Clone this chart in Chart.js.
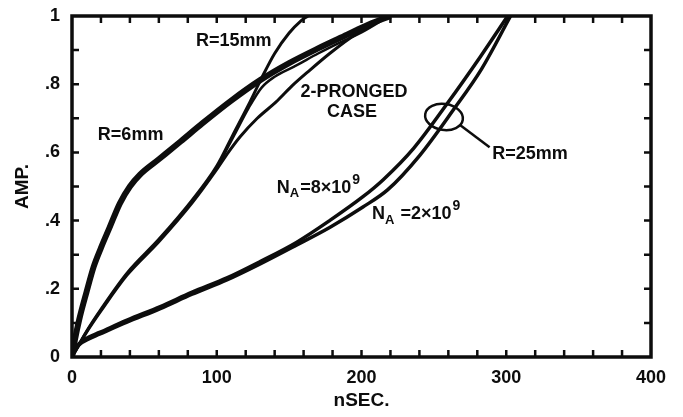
<!DOCTYPE html>
<html>
<head>
<meta charset="utf-8">
<script src="https://cdn.jsdelivr.net/npm/chart.js@4"></script>
<style>
  html, body { margin: 0; padding: 0; background: #fff; }
</style>
</head>
<body>
<canvas id="chart" width="683" height="417"></canvas>
<script>
// --- data ---
const xTickLabels = ['0', '100', '200', '300', '400'];
const yTickLabels = ['0', '.2', '.4', '.6', '.8', '1'];

const r6X = [0, 2, 5, 10, 15, 20, 26, 33, 40, 47, 60, 75, 90, 110, 130, 150, 170, 190, 205, 220];
const r6Y = [0, 0.05, 0.11, 0.19, 0.265, 0.32, 0.38, 0.45, 0.5, 0.535, 0.58, 0.632, 0.685, 0.752, 0.812, 0.862, 0.905, 0.945, 0.975, 1.0];

const r15X = [0, 10, 20, 38, 60, 83, 100, 111, 122, 131, 140, 150, 158, 163];
const r15Y = [0, 0.075, 0.14, 0.246, 0.345, 0.46, 0.56, 0.65, 0.74, 0.818, 0.89, 0.95, 0.985, 1.0];

const prongLowX = [0, 10, 20, 38, 60, 83, 100, 108, 116, 128, 141, 152, 164, 178, 192, 205, 217];
const prongLowY = [0, 0.072, 0.135, 0.24, 0.338, 0.452, 0.55, 0.6, 0.645, 0.7, 0.748, 0.795, 0.84, 0.89, 0.935, 0.97, 1.0];

const prongHighX = [0, 10, 20, 38, 60, 83, 100, 112, 122, 131, 140, 155, 170, 185, 200, 219];
const prongHighY = [0, 0.074, 0.138, 0.243, 0.342, 0.456, 0.555, 0.65, 0.73, 0.79, 0.822, 0.855, 0.89, 0.922, 0.952, 1.0];

const na8X = [0, 2, 5, 12, 19, 38, 61, 83, 107, 130, 155, 178, 201, 215, 236, 259, 282, 301];
const na8Y = [0, 0.02, 0.04, 0.059, 0.072, 0.108, 0.148, 0.19, 0.232, 0.28, 0.336, 0.40, 0.47, 0.52, 0.612, 0.742, 0.88, 1.0];

const na2X = [0, 2, 5, 12, 19, 38, 61, 83, 107, 130, 155, 178, 201, 218, 240, 263, 283, 303];
const na2Y = [0, 0.018, 0.036, 0.054, 0.067, 0.102, 0.142, 0.184, 0.226, 0.273, 0.328, 0.38, 0.44, 0.49, 0.59, 0.722, 0.845, 1.0];

const toPoints = (xs, ys) => xs.map((x, i) => ({ x: x, y: ys[i] }));

const FONT = '"Liberation Sans", Arial, sans-serif';
const INK = '#0d0d0d';

// text notes placed in data coordinates
const notes = [
    { text: 'R=15mm', x: 111.8, y: 0.927, align: 'center' },
    { text: 'R=6mm', x: 40.5, y: 0.651, align: 'center' },
    { text: '2-PRONGED', x: 194.8, y: 0.777, align: 'center' },
    { text: 'CASE', x: 193.4, y: 0.718, align: 'center' },
    { text: 'R=25mm', x: 290.3, y: 0.595, align: 'left' }
];
const naNotes = [
    { head: 'N', sub: 'A', tail: '=8\u00d710', sup: '9', x: 141.5, y: 0.496 },
    { head: 'N', sub: 'A', tail: ' =2\u00d710', sup: '9', x: 207.3, y: 0.419 }
];

// frame, inward ticks and annotations
const decorPlugin = {
    id: 'decor',
    afterDatasetsDraw(chart) {
        const { ctx, chartArea: a, scales: { x, y } } = chart;
        ctx.save();
        ctx.strokeStyle = INK;
        ctx.lineWidth = 3.5;
        ctx.strokeRect(a.left, a.top, a.right - a.left, a.bottom - a.top);

        ctx.lineWidth = 2.5;
        ctx.beginPath();
        for (let v = 20; v < 400; v += 20) {
            const px = x.getPixelForValue(v);
            ctx.moveTo(px, a.bottom); ctx.lineTo(px, a.bottom - 7);
            ctx.moveTo(px, a.top); ctx.lineTo(px, a.top + 7);
        }
        for (let v = 1; v < 10; v++) {
            const py = y.getPixelForValue(v / 10);
            ctx.moveTo(a.left, py); ctx.lineTo(a.left + 7, py);
            ctx.moveTo(a.right, py); ctx.lineTo(a.right - 7, py);
        }
        ctx.stroke();

        ctx.fillStyle = INK;
        ctx.textBaseline = 'middle';
        ctx.font = 'bold 18px ' + FONT;
        notes.forEach(n => {
            ctx.textAlign = n.align;
            ctx.fillText(n.text, x.getPixelForValue(n.x), y.getPixelForValue(n.y));
        });

        naNotes.forEach(n => {
            let px = x.getPixelForValue(n.x);
            const py = y.getPixelForValue(n.y);
            ctx.textAlign = 'left';
            ctx.font = 'bold 18px ' + FONT;
            ctx.fillText(n.head, px, py);
            px += ctx.measureText(n.head).width;
            ctx.font = 'bold 13px ' + FONT;
            ctx.fillText(n.sub, px, py + 6);
            px += ctx.measureText(n.sub).width + 1;
            ctx.font = 'bold 18px ' + FONT;
            ctx.fillText(n.tail, px, py);
            px += ctx.measureText(n.tail).width + 1;
            ctx.font = 'bold 14px ' + FONT;
            ctx.fillText(n.sup, px, py - 8);
        });

        // ellipse marking the R=25mm pair, with its leader
        const ex = x.getPixelForValue(257);
        const ey = y.getPixelForValue(0.704);
        ctx.lineWidth = 2.5;
        ctx.beginPath();
        ctx.ellipse(ex, ey, 19, 13, 0.15, 0, Math.PI * 2);
        ctx.stroke();
        ctx.beginPath();
        ctx.moveTo(ex + 16, ey + 8);
        ctx.lineTo(x.getPixelForValue(288.5), y.getPixelForValue(0.615));
        ctx.stroke();
        ctx.restore();
    }
};

const lineSet = (xs, ys, width) => ({
    data: toPoints(xs, ys),
    borderColor: INK,
    borderWidth: width,
    pointRadius: 0,
    fill: false,
    cubicInterpolationMode: 'monotone'
});

new Chart(document.getElementById('chart').getContext('2d'), {
    type: 'line',
    data: {
        datasets: [
            lineSet(r6X, r6Y, 6),
            lineSet(r15X, r15Y, 3),
            lineSet(prongLowX, prongLowY, 3),
            lineSet(prongHighX, prongHighY, 2.5),
            lineSet(na8X, na8Y, 3.5),
            lineSet(na2X, na2Y, 3.5)
        ]
    },
    options: {
        responsive: false,
        animation: false,
        layout: { padding: { top: 16, right: 32, left: 0, bottom: 0 } },
        plugins: { legend: { display: false }, tooltip: { enabled: false } },
        scales: {
            x: {
                type: 'linear', min: 0, max: 400,
                grid: { display: false }, border: { display: false },
                ticks: {
                    stepSize: 100, padding: 2, maxRotation: 0, color: INK,
                    font: { family: FONT, size: 18, weight: 'bold' },
                    callback: (v, i) => xTickLabels[i]
                },
                title: {
                    display: true, text: 'nSEC.', color: INK,
                    font: { family: FONT, size: 19, weight: 'bold' },
                    padding: { top: 8, bottom: 5 }
                },
                afterFit: s => { s.height = 60; }
            },
            y: {
                type: 'linear', min: 0, max: 1,
                grid: { display: false }, border: { display: false },
                ticks: {
                    stepSize: 0.2, padding: 4, color: INK,
                    font: { family: FONT, size: 18, weight: 'bold' },
                    callback: (v, i) => yTickLabels[i]
                },
                title: {
                    display: true, text: 'AMP.', color: INK,
                    font: { family: FONT, size: 19, weight: 'bold' },
                    padding: { top: 11, bottom: 0 }
                },
                afterFit: s => { s.width = 72; }
            }
        }
    },
    plugins: [decorPlugin]
});
</script>
</body>
</html>
